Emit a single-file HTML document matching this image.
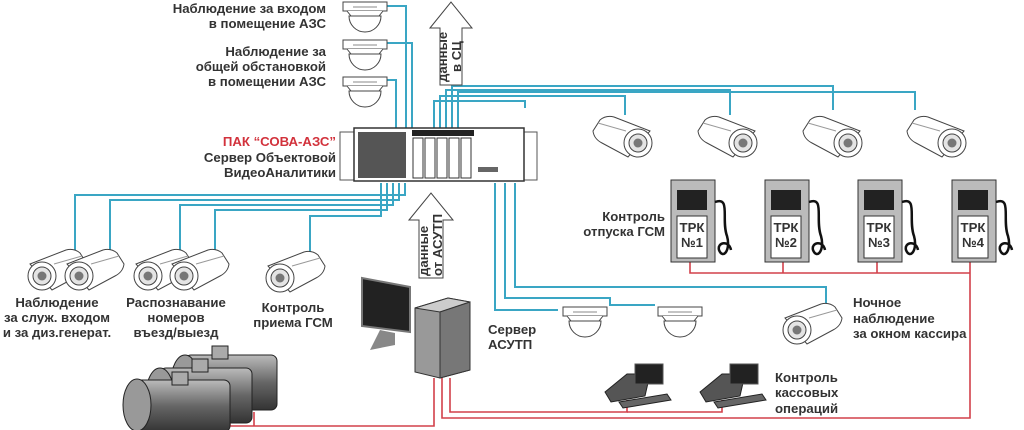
<!DOCTYPE html>
<html><head><meta charset="utf-8"><style>
html,body{margin:0;padding:0;background:#fff;}
svg{display:block;}
text{font-family:"Liberation Sans",sans-serif;font-weight:bold;font-size:13.2px;fill:#333;}
</style></head><body>
<svg width="1024" height="430" viewBox="0 0 1024 430" xmlns="http://www.w3.org/2000/svg">
<defs>
<g id="dome">
<rect x="0" y="0" width="44" height="9" fill="#fff" stroke="#444"/>
<path d="M4 9 L8 14 L36 14 L40 9" fill="#fff" stroke="#444"/>
<path d="M6 14 A16 16 0 0 0 38 14 Z" fill="#fff" stroke="#444"/>
<line x1="10" y1="5" x2="34" y2="5" stroke="#888"/>
</g>
<g id="camL">
<path d="M6 16 L42 2 Q50 0 56 5 L63 16 Q62 24 54 28 L28 42 Z" fill="#fff" stroke="#444"/>
<line x1="30" y1="16" x2="58" y2="8" stroke="#999"/>
<circle cx="18" cy="28" r="14" fill="#fff" stroke="#444"/>
<circle cx="18" cy="28" r="9" fill="#e4e4e4" stroke="#444"/>
<circle cx="18" cy="28" r="4.5" fill="#777"/>
</g>
<g id="camR">
<path d="M58 16 L22 2 Q14 0 8 5 L1 16 Q2 24 10 28 L36 42 Z" fill="#fff" stroke="#444"/>
<line x1="34" y1="16" x2="6" y2="8" stroke="#999"/>
<circle cx="46" cy="28" r="14" fill="#fff" stroke="#444"/>
<circle cx="46" cy="28" r="9" fill="#e4e4e4" stroke="#444"/>
<circle cx="46" cy="28" r="4.5" fill="#777"/>
</g>
<g id="pump">
<rect x="0" y="0" width="44" height="82" fill="#bbb" stroke="#333"/>
<rect x="6" y="10" width="30" height="20" fill="#222"/>
<rect x="6" y="36" width="30" height="42" fill="#fff" stroke="#333"/>
<path d="M44 22 C60 16 50 40 56 56 C60 70 52 80 48 70 C46 62 58 60 60 70" fill="none" stroke="#111" stroke-width="2.5"/>
</g>
<g id="pos">
<path d="M0 28 L22 10 L45 10 L40 32 L6 38 Z" fill="#555" stroke="#222"/>
<rect x="30" y="0" width="28" height="20" fill="#222" stroke="#555"/>
<path d="M14 38 L62 30 L66 36 L18 44 Z" fill="#666" stroke="#222"/>
</g>
<linearGradient id="tg" x1="0" y1="0" x2="0" y2="1"><stop offset="0" stop-color="#bbb"/><stop offset=".5" stop-color="#666"/><stop offset="1" stop-color="#333"/></linearGradient>
</defs>

<g fill="none" stroke="#3aa6c4" stroke-width="2">
<path d="M375 6 H406 V128"/>
<path d="M375 43 H412 V128"/>
<path d="M375 80 H396 V128"/>
<path d="M440 128 V96 H625 V115"/>
<path d="M446 128 V90 H730 V115"/>
<path d="M434 128 V101 H525 V108"/>
<path d="M452 128 V86 H833 V110"/>
<path d="M458 128 V92 H915 V110"/>
<path d="M405 183 V195 H75 V250"/>
<path d="M399 183 V200 H110 V250"/>
<path d="M393 183 V205 H180 V252"/>
<path d="M387 183 V210 H215 V252"/>
<path d="M381 183 V216 H310 V252"/>
<path d="M495 183 V310 H558"/>
<path d="M505 183 V298 H610 V305 H655"/>
<path d="M515 183 V287 H826 V303"/>
</g>
<g fill="none" stroke="#d2404a" stroke-width="1.6">
<path d="M230 404 V426 H434 V378"/>
<path d="M254 412 V426"/>
<path d="M442 378 V418 H970 V262"/>
<path d="M450 378 V412 H627 V400"/>
<path d="M627 412 H722 V400"/>
<path d="M690 262 V273 H970"/>
<path d="M783 262 V273"/><path d="M877 262 V273"/>
</g>

<use href="#dome" x="343" y="2"/>
<use href="#dome" x="343" y="40"/>
<use href="#dome" x="343" y="77"/>
<use href="#dome" x="563" y="307"/>
<use href="#dome" x="658" y="307"/>

<rect x="337" y="128" width="200" height="55" fill="#fff"/>
<rect x="340" y="132" width="14" height="48" fill="#fff" stroke="#555"/>
<rect x="523" y="132" width="14" height="48" fill="#fff" stroke="#555"/>
<rect x="354" y="128" width="170" height="53" fill="#fff" stroke="#333" stroke-width="1.5"/>
<rect x="358" y="132" width="48" height="46" fill="#555"/>
<g fill="#fff" stroke="#333">
<rect x="413" y="138" width="10" height="40"/><rect x="425" y="138" width="10" height="40"/>
<rect x="437" y="138" width="10" height="40"/><rect x="449" y="138" width="10" height="40"/>
<rect x="461" y="138" width="10" height="40"/>
</g>
<rect x="412" y="130" width="62" height="6" fill="#222"/>
<rect x="478" y="167" width="20" height="5" fill="#666"/>

<path d="M430 28 L451 2 L472 28 L462 28 L462 85 L440 85 L440 28 Z" fill="#fff" stroke="#444"/>
<text transform="translate(447 82) rotate(-90)" font-size="12">данные</text>
<text transform="translate(461 72) rotate(-90)" font-size="12">в СЦ</text>
<path d="M409 220 L431 193 L453 220 L443 220 L443 278 L419 278 L419 220 Z" fill="#fff" stroke="#444"/>
<text transform="translate(428 276) rotate(-90)" font-size="12">данные</text>
<text transform="translate(442 276) rotate(-90)" font-size="12">от АСУТП</text>

<g text-anchor="end">
<text x="326" y="13">Наблюдение за входом</text>
<text x="326" y="28">в помещение АЗС</text>
<text x="326" y="56">Наблюдение за</text>
<text x="326" y="71">общей обстановкой</text>
<text x="326" y="86">в помещении АЗС</text>
<text x="336" y="146" style="fill:#d2323c">ПАК “СОВА-АЗС”</text>
<text x="336" y="162">Сервер Объектовой</text>
<text x="336" y="177">ВидеоАналитики</text>
<text x="665" y="221">Контроль</text>
<text x="665" y="236">отпуска ГСМ</text>
</g>
<g text-anchor="middle">
<text x="57" y="307">Наблюдение</text>
<text x="57" y="322">за служ. входом</text>
<text x="57" y="337">и за диз.генерат.</text>
<text x="176" y="307">Распознавание</text>
<text x="176" y="322">номеров</text>
<text x="176" y="337">въезд/выезд</text>
<text x="293" y="312">Контроль</text>
<text x="293" y="327">приема ГСМ</text>
</g>
<text x="488" y="334">Сервер</text>
<text x="488" y="349">АСУТП</text>
<text x="853" y="307">Ночное</text>
<text x="853" y="323">наблюдение</text>
<text x="853" y="338">за окном кассира</text>
<text x="775" y="382">Контроль</text>
<text x="775" y="397">кассовых</text>
<text x="775" y="413">операций</text>

<use href="#camL" x="24" y="248"/>
<use href="#camL" x="61" y="248"/>
<use href="#camL" x="130" y="248"/>
<use href="#camL" x="166" y="248"/>
<use href="#camL" x="262" y="250"/>
<use href="#camR" x="592" y="115"/>
<use href="#camR" x="697" y="115"/>
<use href="#camR" x="802" y="115"/>
<use href="#camR" x="906" y="115"/>
<use href="#camL" x="779" y="302"/>

<use href="#pump" x="671" y="180"/>
<use href="#pump" x="765" y="180"/>
<use href="#pump" x="858" y="180"/>
<use href="#pump" x="952" y="180"/>
<g text-anchor="middle">
<text x="692" y="232" font-size="11.5">ТРК</text><text x="692" y="247" font-size="11.5">№1</text>
<text x="786" y="232" font-size="11.5">ТРК</text><text x="786" y="247" font-size="11.5">№2</text>
<text x="879" y="232" font-size="11.5">ТРК</text><text x="879" y="247" font-size="11.5">№3</text>
<text x="973" y="232" font-size="11.5">ТРК</text><text x="973" y="247" font-size="11.5">№4</text>
</g>

<g stroke="#222">
<rect x="185" y="355" width="92" height="55" rx="6" fill="url(#tg)"/>
<ellipse cx="185" cy="382" rx="14" ry="27" fill="#999"/>
<rect x="212" y="346" width="16" height="13" fill="#aaa"/>
<rect x="160" y="368" width="92" height="55" rx="6" fill="url(#tg)"/>
<ellipse cx="160" cy="395" rx="14" ry="27" fill="#999"/>
<rect x="192" y="359" width="16" height="13" fill="#aaa"/>
<rect x="135" y="380" width="95" height="52" rx="6" fill="url(#tg)"/>
<ellipse cx="137" cy="405" rx="14" ry="26" fill="#999"/>
<rect x="172" y="372" width="16" height="13" fill="#aaa"/>
</g>

<path d="M362 278 L410 287 L410 332 L362 326 Z" fill="#222" stroke="#777" stroke-width="2"/>
<path d="M380 330 L395 333 L395 345 L370 350 Z" fill="#888"/>
<path d="M415 308 L448 298 L470 302 L470 370 L440 378 L415 372 Z" fill="#999" stroke="#333"/>
<path d="M415 308 L448 298 L470 302 L440 312 Z" fill="#ccc" stroke="#333"/>
<path d="M440 312 L470 302 L470 370 L440 378 Z" fill="#777" stroke="#333"/>

<use href="#pos" x="605" y="364"/>
<use href="#pos" x="700" y="364"/>
</svg>
</body></html>
